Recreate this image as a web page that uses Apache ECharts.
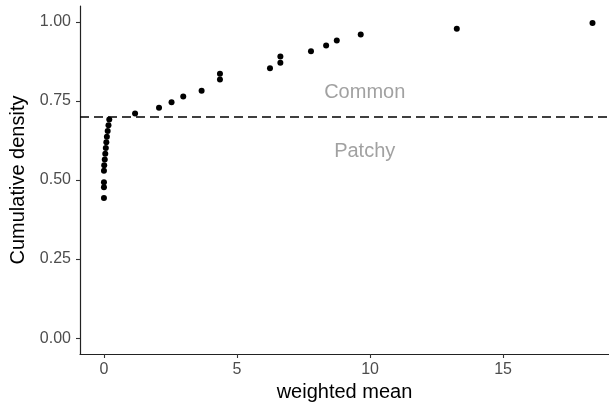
<!DOCTYPE html>
<html>
<head>
<meta charset="utf-8">
<script src="https://cdn.jsdelivr.net/npm/echarts@6/dist/echarts.min.js"></script>
<style>
	html, body { margin: 0; padding: 0; background: #fff; }
	#cum_density { width: 609px; height: 408px; }
</style>
</head>
<body>
<div id="cum_density"></div>
<script>
	// weighted mean (x) and cumulative density (y)
	let weightedMean = [0, 0, 0, 0, 0.01, 0.03, 0.05, 0.07, 0.09, 0.11, 0.14, 0.17, 0.20,
		1.17, 2.07, 2.54, 2.98, 3.67, 4.36, 4.36, 6.24, 6.63, 6.63, 7.78, 8.35, 8.75, 9.65, 13.26, 18.36]
	let cumDensity = [0.443, 0.477, 0.493, 0.529, 0.547, 0.565, 0.583, 0.601, 0.619, 0.637, 0.655, 0.673, 0.691,
		0.710, 0.728, 0.746, 0.764, 0.782, 0.818, 0.836, 0.853, 0.871, 0.890, 0.907, 0.925, 0.941, 0.960, 0.978, 0.996]
	let cutoff = 0.7
	let xTicks = [0, 5, 10, 15]
	let yTicks = [0, 0.25, 0.5, 0.75, 1]
	let zoneNames = ['Common', 'Patchy']
	let zoneY = [0.777, 0.591]
	let zoneX = 9.8

	let font = '"Liberation Sans", Arial, Helvetica, sans-serif'
	let chart = echarts.init(document.getElementById('cum_density'))
	let points = weightedMean.map(function(v, i) { return [v, cumDensity[i]] })
	let zones = zoneNames.map(function(n, i) { return [zoneX, zoneY[i], n] })

	chart.setOption({
		animation: false,
		grid: {
			left: 80,
			right: 0,
			top: 6,
			bottom: 54
		},
		xAxis: {
			type: 'value',
			min: -0.9,
			max: 18.98,
			name: 'weighted mean',
			nameLocation: 'middle',
			nameGap: 25,
			nameTextStyle: { color: '#000', fontSize: 20, fontFamily: font },
			axisLine: { show: true, onZero: false, lineStyle: { color: '#222', width: 1.2 } },
			axisTick: { show: true, length: 4, customValues: xTicks, lineStyle: { color: '#333', width: 1.1 } },
			axisLabel: { customValues: xTicks, color: '#4d4d4d', fontSize: 16, fontFamily: font, margin: 8 },
			splitLine: { show: false }
		},
		yAxis: {
			type: 'value',
			min: -0.05,
			max: 1.05,
			name: 'Cumulative density',
			nameLocation: 'middle',
			nameGap: 48,
			nameTextStyle: { color: '#000', fontSize: 20, fontFamily: font },
			axisLine: { show: true, onZero: false, lineStyle: { color: '#222', width: 1.2 } },
			axisTick: { show: true, length: 4, customValues: yTicks, lineStyle: { color: '#333', width: 1.1 } },
			axisLabel: {
				customValues: yTicks,
				color: '#4d4d4d',
				fontSize: 16,
				fontFamily: font,
				margin: 9,
				formatter: function(v) { return v.toFixed(2) }
			},
			splitLine: { show: false }
		},
		series: [{
			name: 'ecdf',
			type: 'scatter',
			data: points,
			symbolSize: 6,
			itemStyle: { color: '#000', opacity: 1 },
			markLine: {
				silent: true,
				symbol: 'none',
				label: { show: false },
				lineStyle: { color: '#000', type: [9, 5], width: 1.5 },
				data: [{ yAxis: cutoff }]
			}
		}, {
			name: 'zones',
			type: 'scatter',
			data: zones,
			symbolSize: 0,
			silent: true,
			label: {
				show: true,
				position: 'inside',
				color: '#8a8a8a',
				fontSize: 20,
				fontFamily: font,
				formatter: function(p) { return p.value[2] }
			}
		}]
	})
</script>
</body>
</html>
